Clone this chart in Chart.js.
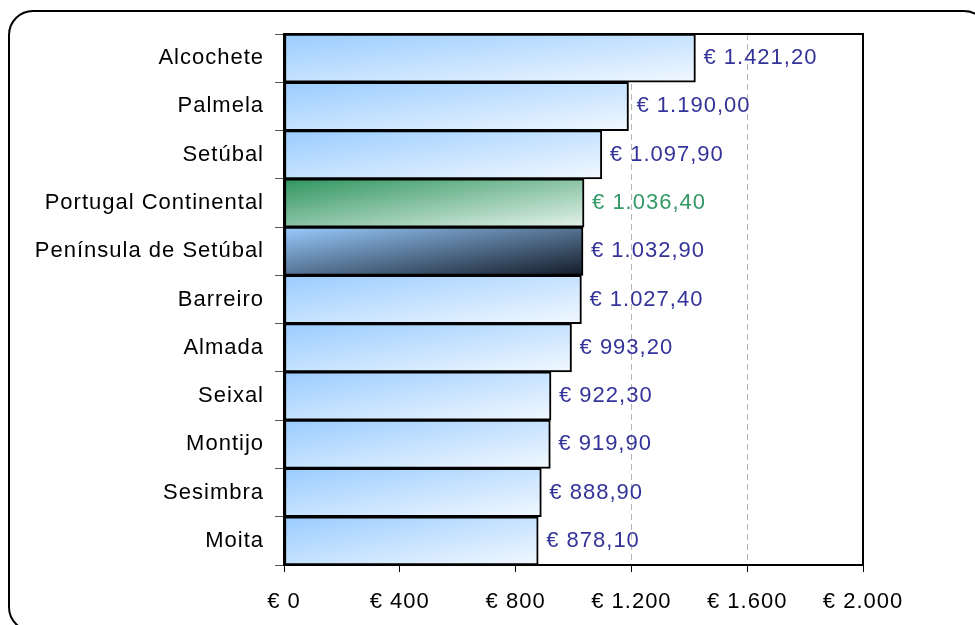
<!DOCTYPE html>
<html>
<head>
<meta charset="utf-8">
<script src="https://cdn.jsdelivr.net/npm/chart.js@4.4.1/dist/chart.umd.min.js"></script>
<style>
  html, body { margin: 0; padding: 0; background: #fff; }
  #wrap { width: 975px; height: 625px; }
</style>
</head>
<body>
<div id="wrap"><canvas id="c" width="975" height="625"></canvas></div>
<script>
const categories = ["Alcochete", "Palmela", "Setúbal", "Portugal Continental", "Península de Setúbal",
  "Barreiro", "Almada", "Seixal", "Montijo", "Sesimbra", "Moita"];
const values = [1421.20, 1190.00, 1097.90, 1036.40, 1032.90, 1027.40, 993.20, 922.30, 919.90, 888.90, 878.10];
const valueLabels = ["€ 1.421,20", "€ 1.190,00", "€ 1.097,90", "€ 1.036,40", "€ 1.032,90", "€ 1.027,40",
  "€ 993,20", "€ 922,30", "€ 919,90", "€ 888,90", "€ 878,10"];
const xTickLabels = ["€ 0", "€ 400", "€ 800", "€ 1.200", "€ 1.600", "€ 2.000"];
const xMin = 0, xMax = 2000, xStep = 400;

const FONT = "'Liberation Sans', Arial, sans-serif";
const gradStops = {
  blue: ["#99ccff", "#f2f8ff"],
  green: ["#2f9560", "#e4f2e9"],
  dark: ["#99ccff", "#131b27"]
};
function styleFor(i) {
  if (categories[i] === "Portugal Continental") return "green";
  if (categories[i] === "Península de Setúbal") return "dark";
  return "blue";
}

function barFill(ctx) {
  const chart = ctx.chart;
  const stops = gradStops[styleFor(ctx.dataIndex)];
  if (!chart.chartArea || !chart.scales.x || !chart.scales.y) return stops[0];
  const sx = chart.scales.x, sy = chart.scales.y;
  const i = ctx.dataIndex;
  const x0 = sx.getPixelForValue(0), x1 = sx.getPixelForValue(values[i]);
  const yc = sy.getPixelForValue(i);
  const h = sy.height / categories.length;
  const w = Math.max(1, x1 - x0);
  const L = Math.hypot(w, h);
  const dx = h / L, dy = w / L, s = w * h / L;
  const cx = (x0 + x1) / 2;
  const g = chart.ctx.createLinearGradient(cx - dx * s, yc - dy * s, cx + dx * s, yc + dy * s);
  g.addColorStop(0, stops[0]);
  g.addColorStop(1, stops[1]);
  return g;
}

const framePlugin = {
  id: 'frame',
  beforeDraw(chart) {
    const c = chart.ctx;
    c.save();
    c.fillStyle = '#fff';
    c.fillRect(0, 0, chart.width, chart.height);
    const x0 = 9, y0 = 11, x1 = 988, y1 = 631, r = 24;
    c.beginPath();
    c.moveTo(x0 + r, y0);
    c.lineTo(x1 - r, y0);
    c.arcTo(x1, y0, x1, y0 + r, r);
    c.lineTo(x1, y1 - r);
    c.arcTo(x1, y1, x1 - r, y1, r);
    c.lineTo(x0 + r, y1);
    c.arcTo(x0, y1, x0, y1 - r, r);
    c.lineTo(x0, y0 + r);
    c.arcTo(x0, y0, x0 + r, y0, r);
    c.closePath();
    c.lineWidth = 2;
    c.strokeStyle = '#000';
    c.stroke();
    c.restore();
    c.letterSpacing = '1px';
  },
  afterDatasetsDraw(chart) {
    const c = chart.ctx;
    const a = chart.chartArea;
    c.save();
    c.strokeStyle = '#000';
    c.lineWidth = 2;
    c.strokeRect(a.left, a.top, a.right - a.left, a.bottom - a.top);
    // value labels
    const meta = chart.getDatasetMeta(0);
    c.font = "22px " + FONT;
    c.textAlign = 'left';
    c.textBaseline = 'middle';
    meta.data.forEach((el, i) => {
      c.fillStyle = styleFor(i) === 'green' ? '#339966' : '#333399';
      c.fillText(valueLabels[i], el.x + 8, el.y);
    });
    c.restore();
  }
};

new Chart(document.getElementById('c'), {
  type: 'bar',
  data: {
    labels: categories,
    datasets: [{
      data: values,
      backgroundColor: barFill,
      borderColor: '#000',
      borderWidth: 2,
      borderSkipped: false,
      barPercentage: 1,
      categoryPercentage: 1
    }]
  },
  options: {
    indexAxis: 'y',
    responsive: false,
    animation: false,
    devicePixelRatio: 1,
    layout: { padding: { left: 0, top: 34, right: 112, bottom: 0 } },
    plugins: { legend: { display: false }, tooltip: { enabled: false }, title: { display: false } },
    scales: {
      x: {
        min: xMin, max: xMax,
        border: { display: false, dash: [6, 4] },
        grid: {
          color: (ctx) => (ctx.tick && (ctx.tick.value === xMin || ctx.tick.value === xMax)) ? 'rgba(0,0,0,0)' : '#b5b5b5',
          lineWidth: 1,
          drawTicks: true,
          tickLength: 7,
          tickColor: '#000',
          tickWidth: 1
        },
        ticks: {
          stepSize: xStep,
          color: '#000',
          font: { size: 22, family: FONT },
          padding: 17,
          maxRotation: 0,
          callback: (v, idx) => xTickLabels[idx]
        },
        afterFit: (s) => { s.height = 60; }
      },
      y: {
        border: { display: false },
        grid: {
          drawOnChartArea: false,
          drawTicks: true,
          tickLength: 9,
          tickColor: '#555',
          tickWidth: 1,
          offset: true
        },
        ticks: {
          color: '#000',
          font: { size: 22, family: FONT },
          padding: 11,
          labelOffset: 0
        },
        afterFit: (s) => { s.width = 284; }
      }
    }
  },
  plugins: [framePlugin]
});
</script>
</body>
</html>
